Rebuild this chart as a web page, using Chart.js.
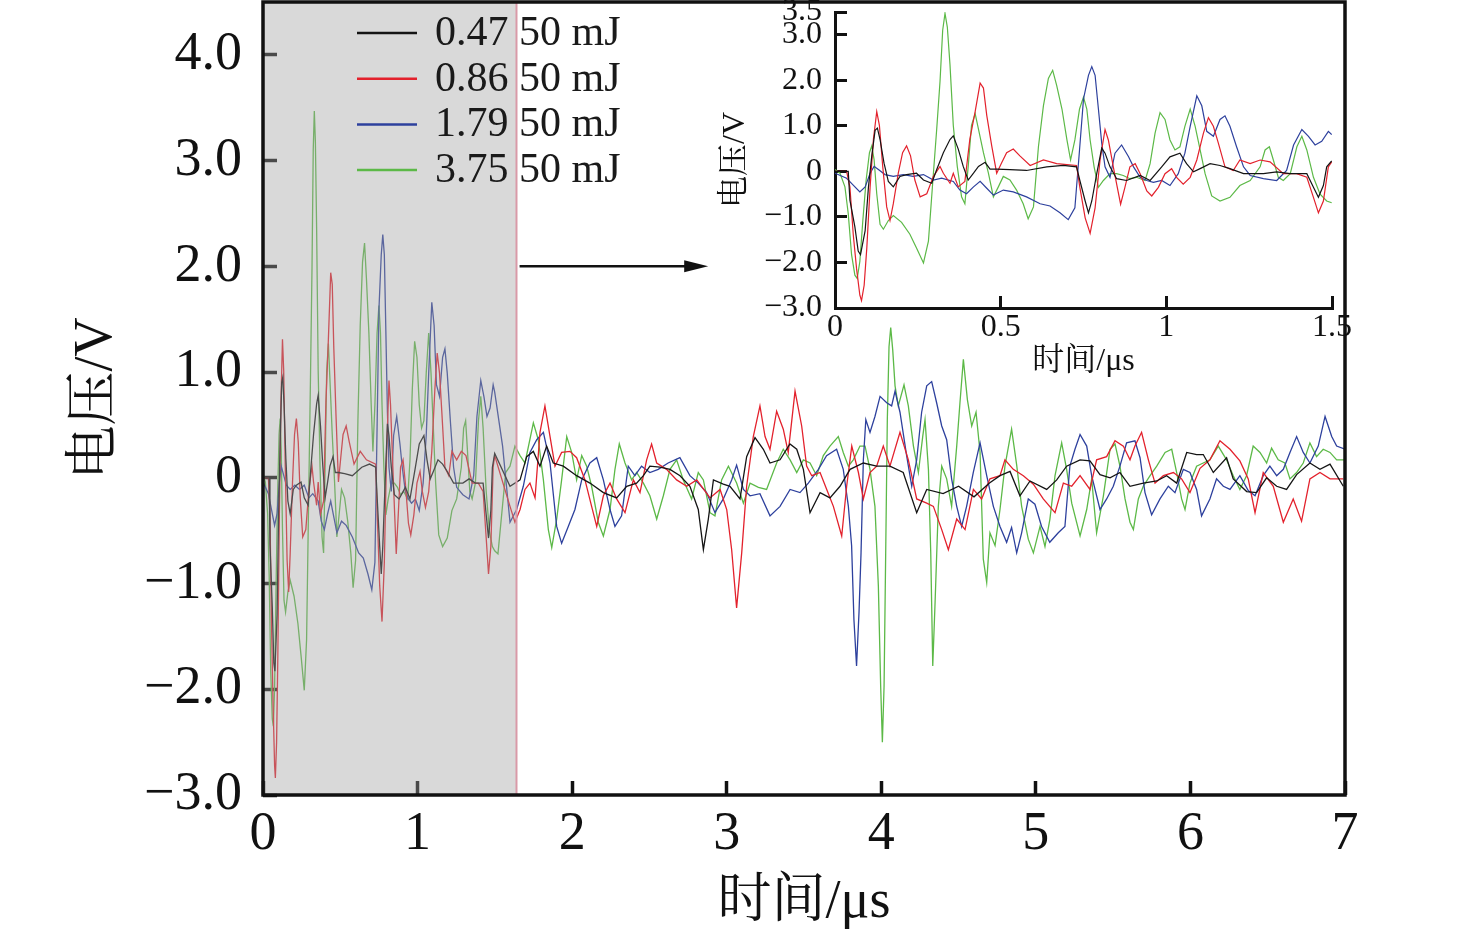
<!DOCTYPE html>
<html>
<head>
<meta charset="utf-8">
<script src="https://cdn.jsdelivr.net/npm/chart.js@4.4.1/dist/chart.umd.min.js"></script>
<style>
  html, body { margin: 0; padding: 0; background: #fff; overflow: hidden; }
  #wrap { position: relative; width: 1476px; height: 939px; }
  #main { position: absolute; left: 0; top: 0; }
  #inset { position: absolute; left: 700px; top: 0; }
</style>
</head>
<body>
<div id="wrap">
  <canvas id="main" width="1476" height="939"></canvas>
  <canvas id="inset" width="660" height="390"></canvas>
</div>
<script>
// series: [time (μs), voltage (V)]
const s047 = [
  [0,0],[0.040,0],[0.045,-0.63],[0.060,-1.22],[0.070,-1.75],[0.077,-1.83],[0.091,-1.30],[0.101,-0.34],
  [0.111,0.34],[0.121,0.90],[0.128,0.95],[0.136,0.70],[0.148,0.18],[0.161,-0.22],[0.176,-0.34],[0.196,-0.11],
  [0.216,-0.07],[0.246,-0.04],[0.267,-0.19],[0.292,-0.26],[0.307,0.04],[0.327,0.41],[0.347,0.70],[0.357,0.78],
  [0.372,0.49],[0.387,0.11],[0.402,-0.19],[0.418,-0.04],[0.433,0.11],[0.453,0.20],[0.468,0.05],[0.488,0.05],
  [0.528,0.04],[0.578,0.02],[0.639,0.10],[0.689,0.13],[0.729,0.10],[0.739,-0.20],[0.755,-0.65],[0.765,-0.91],
  [0.775,-0.65],[0.790,-0.05],[0.805,0.51],[0.815,0.40],[0.830,0.10],[0.850,-0.16],[0.880,-0.20],[0.921,-0.09],
  [0.951,-0.20],[0.986,0.10],[1.011,0.32],[1.041,0.40],[1.061,0.17],[1.082,-0.01],[1.102,0.06],[1.132,0.17],
  [1.162,0.13],[1.192,0.06],[1.233,-0.05],[1.293,-0.05],[1.333,-0.01],[1.374,-0.05],[1.424,-0.05],[1.444,-0.35],
  [1.459,-0.57],[1.474,-0.31],[1.484,0.10],[1.499,0.23],[1.598,-0.08],[1.663,-0.02],[1.706,0.20],[1.749,0.25],
  [1.792,0.11],[1.835,0.30],[1.878,0.14],[1.943,0.11],[2.029,0.02],[2.115,-0.05],[2.202,-0.14],[2.288,-0.19],
  [2.353,-0.08],[2.417,-0.05],[2.461,0.02],[2.503,0.11],[2.568,0.10],[2.633,0.08],[2.698,0.02],[2.762,-0.08],
  [2.816,-0.30],[2.849,-0.68],[2.881,-0.39],[2.914,-0.02],[2.978,-0.06],[3.021,-0.08],[3.086,-0.20],[3.129,0.20],
  [3.183,0.38],[3.237,0.27],[3.280,0.14],[3.345,0.17],[3.409,0.32],[3.453,0.27],[3.496,0.08],[3.539,-0.33],
  [3.604,-0.14],[3.668,-0.19],[3.733,-0.08],[3.798,0.08],[3.884,0.14],[3.970,0.11],[4.056,0.11],[4.142,0.05],
  [4.229,-0.33],[4.294,-0.11],[4.400,-0.15],[4.500,-0.08],[4.600,-0.18],[4.700,-0.05],[4.768,0.02],[4.833,0.06],
  [4.897,-0.17],[4.962,-0.03],[5.070,-0.11],[5.135,-0.02],[5.199,0.11],[5.286,0.17],[5.350,0.16],[5.415,0.03],
  [5.480,0.00],[5.544,0.05],[5.609,-0.08],[5.695,-0.05],[5.782,-0.03],[5.846,0.02],[5.911,-0.05],[5.976,0.24],
  [6.040,0.22],[6.083,0.22],[6.148,0.05],[6.234,0.19],[6.277,-0.01],[6.364,-0.13],[6.428,-0.14],[6.493,0.00],
  [6.558,-0.08],[6.622,-0.11],[6.687,0.03],[6.773,0.14],[6.838,0.08],[6.903,0.13],[6.989,-0.08]
]
const s086 = [
  [0,0],[0.035,0],[0.045,-0.34],[0.055,-1.38],[0.065,-2.13],[0.075,-2.72],[0.080,-2.84],[0.088,-2.50],
  [0.096,-1.68],[0.106,-0.34],[0.116,0.71],[0.126,1.31],[0.134,1.01],[0.144,0.11],[0.156,-0.78],[0.166,-1.08],
  [0.176,-0.71],[0.191,-0.04],[0.204,0.41],[0.216,0.56],[0.228,0.34],[0.241,-0.19],[0.257,-0.56],[0.277,-0.49],
  [0.297,-0.11],[0.317,0.11],[0.327,-0.04],[0.347,-0.26],[0.357,-0.04],[0.372,-0.34],[0.392,-0.22],[0.407,0.71],
  [0.423,1.31],[0.438,1.94],[0.448,1.83],[0.458,1.23],[0.473,0.56],[0.488,-0.04],[0.503,0.19],[0.518,0.41],
  [0.538,0.49],[0.558,0.34],[0.589,0.13],[0.629,0.25],[0.669,0.17],[0.729,0.13],[0.739,-0.35],[0.755,-1.02],
  [0.770,-1.36],[0.785,-0.80],[0.800,0.25],[0.815,0.92],[0.825,0.69],[0.840,0.10],[0.852,-0.35],[0.862,-0.72],
  [0.875,-0.35],[0.890,0.10],[0.906,0.17],[0.921,-0.05],[0.941,-0.43],[0.956,-0.54],[0.976,-0.35],[0.996,-0.05],
  [1.016,0.06],[1.031,-0.13],[1.051,-0.28],[1.072,-0.13],[1.092,0.25],[1.112,0.84],[1.127,1.18],[1.142,0.99],
  [1.157,0.62],[1.177,0.10],[1.202,0.02],[1.222,0.25],[1.253,0.17],[1.283,0.25],[1.313,0.21],[1.353,-0.05],
  [1.393,-0.05],[1.424,-0.13],[1.444,-0.57],[1.459,-0.91],[1.474,-0.65],[1.489,0.10],[1.499,0.21],[1.598,-0.27],
  [1.630,-0.42],[1.663,-0.30],[1.695,-0.11],[1.727,-0.05],[1.760,-0.19],[1.792,0.43],[1.824,0.68],[1.857,0.39],
  [1.889,0.11],[1.932,0.24],[1.986,0.25],[2.029,0.19],[2.083,-0.02],[2.126,-0.27],[2.159,-0.46],[2.202,-0.17],
  [2.245,-0.05],[2.288,-0.20],[2.342,-0.33],[2.396,-0.02],[2.439,-0.14],[2.482,0.17],[2.514,0.32],[2.547,0.14],
  [2.611,0.08],[2.676,-0.02],[2.741,-0.08],[2.806,-0.02],[2.892,-0.19],[2.957,-0.11],[3.000,-0.30],[3.032,-0.68],
  [3.064,-1.23],[3.097,-0.71],[3.129,-0.08],[3.172,0.39],[3.215,0.68],[3.248,0.39],[3.280,0.27],[3.323,0.63],
  [3.366,0.46],[3.398,0.24],[3.442,0.82],[3.485,0.49],[3.517,0.11],[3.550,0.02],[3.604,0.05],[3.647,-0.11],
  [3.690,-0.27],[3.744,-0.55],[3.776,-0.08],[3.809,0.30],[3.852,0.05],[3.884,-0.20],[3.927,0.05],[3.970,0.11],
  [4.013,0.30],[4.056,0.11],[4.121,0.43],[4.175,0.17],[4.229,-0.20],[4.294,-0.24],[4.337,-0.27],[4.391,-0.49],
  [4.434,-0.68],[4.488,-0.39],[4.542,-0.49],[4.596,-0.11],[4.649,-0.20],[4.703,-0.01],[4.768,0.02],[4.800,0.17],
  [4.854,0.08],[4.919,0.02],[4.984,-0.06],[5.048,-0.20],[5.124,-0.33],[5.178,-0.05],[5.232,-0.08],[5.286,0.02],
  [5.350,-0.11],[5.393,0.17],[5.458,0.20],[5.512,0.35],[5.566,0.30],[5.609,0.17],[5.641,0.30],[5.684,0.43],
  [5.728,0.17],[5.771,-0.05],[5.825,0.02],[5.890,0.05],[5.943,-0.01],[5.997,-0.14],[6.062,0.09],[6.126,0.17],
  [6.191,0.35],[6.256,0.27],[6.320,0.16],[6.374,-0.01],[6.418,-0.33],[6.471,0.05],[6.536,-0.08],[6.601,-0.42],
  [6.665,-0.20],[6.719,-0.41],[6.773,-0.01],[6.838,0.05],[6.903,-0.01],[6.989,-0.01]
]
const s179 = [
  [0,-0.04],[0.035,-0.15],[0.055,-0.30],[0.075,-0.45],[0.091,-0.34],[0.106,-0.04],[0.118,0.11],[0.131,0.04],
  [0.151,-0.07],[0.176,-0.11],[0.206,-0.07],[0.236,-0.11],[0.267,-0.07],[0.297,-0.19],[0.322,-0.15],[0.357,-0.22],
  [0.377,-0.41],[0.397,-0.49],[0.418,-0.34],[0.438,-0.22],[0.458,-0.37],[0.478,-0.52],[0.508,-0.41],[0.538,-0.45],
  [0.578,-0.56],[0.619,-0.71],[0.649,-0.76],[0.679,-0.91],[0.704,-1.06],[0.724,-0.80],[0.738,0.47],[0.750,1.59],
  [0.765,2.11],[0.775,2.30],[0.785,2.11],[0.795,1.37],[0.805,0.62],[0.815,0.10],[0.830,-0.13],[0.845,0.40],
  [0.865,0.58],[0.886,0.32],[0.901,0.10],[0.921,-0.13],[0.941,-0.20],[0.961,-0.24],[0.986,-0.20],[1.011,-0.31],
  [1.036,-0.05],[1.056,0.40],[1.072,0.99],[1.092,1.66],[1.107,1.44],[1.122,0.88],[1.142,0.77],[1.162,1.14],
  [1.177,1.22],[1.192,0.99],[1.212,0.54],[1.233,0.10],[1.253,-0.09],[1.293,-0.16],[1.333,-0.20],[1.363,0.02],
  [1.384,0.58],[1.409,0.92],[1.429,0.77],[1.449,0.58],[1.469,0.66],[1.489,0.88],[1.499,0.81],[1.550,0.30],
  [1.598,-0.42],[1.641,-0.30],[1.684,-0.08],[1.727,0.24],[1.771,0.36],[1.814,0.43],[1.857,0.14],[1.900,-0.46],
  [1.932,-0.62],[1.975,-0.46],[2.018,-0.30],[2.062,-0.02],[2.115,0.14],[2.159,0.19],[2.202,-0.02],[2.245,-0.30],
  [2.277,-0.46],[2.320,-0.36],[2.363,0.11],[2.406,0.02],[2.449,0.11],[2.503,0.05],[2.557,0.08],[2.621,0.14],
  [2.697,0.19],[2.762,0.02],[2.816,-0.05],[2.870,-0.14],[2.924,-0.33],[2.978,-0.20],[3.032,-0.02],[3.064,0.12],
  [3.108,-0.11],[3.151,-0.17],[3.215,-0.15],[3.280,-0.36],[3.345,-0.27],[3.410,-0.11],[3.474,-0.14],[3.528,-0.05],
  [3.593,0.08],[3.646,0.21],[3.711,0.27],[3.754,0.08],[3.787,-0.27],[3.808,-0.64],[3.823,-1.34],[3.840,-1.78],
  [3.856,-1.27],[3.869,-0.71],[3.884,0.17],[3.900,0.55],[3.927,0.43],[3.959,0.58],[3.992,0.77],[4.035,0.71],
  [4.067,0.68],[4.089,0.82],[4.121,0.62],[4.164,0.21],[4.197,-0.08],[4.229,0.17],[4.261,0.62],[4.294,0.87],
  [4.326,0.91],[4.358,0.71],[4.391,0.49],[4.423,0.36],[4.455,-0.01],[4.488,-0.27],[4.520,-0.46],[4.552,-0.27],
  [4.595,0.05],[4.639,0.33],[4.682,0.02],[4.725,-0.27],[4.768,-0.46],[4.811,-0.61],[4.843,-0.47],[4.876,-0.71],
  [4.908,-0.52],[4.951,-0.20],[4.994,-0.25],[5.037,-0.46],[5.090,-0.61],[5.145,-0.52],[5.188,-0.46],[5.220,0.11],
  [5.253,0.27],[5.286,0.41],[5.329,0.30],[5.361,0.02],[5.415,-0.30],[5.458,-0.20],[5.501,-0.08],[5.544,0.11],
  [5.587,0.33],[5.641,0.35],[5.674,0.19],[5.706,-0.14],[5.749,-0.35],[5.803,-0.20],[5.857,-0.08],[5.900,-0.14],
  [5.954,0.08],[5.997,0.05],[6.040,-0.11],[6.072,-0.36],[6.126,-0.20],[6.169,-0.01],[6.213,-0.08],[6.256,-0.11],
  [6.320,0.02],[6.374,-0.12],[6.418,-0.17],[6.471,0.02],[6.514,0.11],[6.558,0.02],[6.601,0.08],[6.644,0.24],
  [6.687,0.39],[6.730,0.24],[6.773,0.14],[6.827,0.30],[6.871,0.58],[6.914,0.39],[6.946,0.30],[7.000,0.27]
]
const s375 = [
  [0,0.04],[0.015,-0.04],[0.030,-0.34],[0.040,-0.93],[0.050,-1.83],[0.060,-2.28],[0.067,-2.35],[0.075,-1.98],
  [0.084,-1.08],[0.094,-0.19],[0.104,0.41],[0.111,0.56],[0.118,0.26],[0.126,-0.49],[0.136,-1.16],[0.146,-1.27],
  [0.161,-1.08],[0.176,-0.97],[0.201,-1.12],[0.226,-1.38],[0.246,-1.68],[0.267,-2.01],[0.282,-1.53],[0.297,-0.04],
  [0.307,0.93],[0.317,1.98],[0.325,3.10],[0.332,3.47],[0.339,3.17],[0.347,2.35],[0.357,1.01],[0.369,0.11],
  [0.382,-0.56],[0.392,-0.71],[0.402,0.11],[0.412,1.01],[0.423,1.27],[0.433,0.93],[0.448,0.41],[0.463,-0.04],
  [0.478,-0.56],[0.493,-0.34],[0.508,-0.11],[0.528,-0.19],[0.548,-0.41],[0.568,-0.71],[0.583,-1.04],[0.599,-0.78],
  [0.614,0.54],[0.629,1.44],[0.644,2.04],[0.657,2.22],[0.669,1.89],[0.685,1.37],[0.700,0.69],[0.711,0.25],
  [0.724,0.69],[0.738,1.37],[0.750,1.63],[0.760,1.37],[0.770,0.69],[0.782,0.10],[0.795,-0.35],[0.810,-0.20],
  [0.830,-0.05],[0.850,-0.05],[0.870,-0.09],[0.890,-0.16],[0.910,-0.13],[0.936,-0.20],[0.951,0.17],[0.966,0.84],
  [0.981,1.29],[0.996,1.14],[1.011,0.69],[1.026,0.47],[1.041,0.54],[1.056,0.99],[1.072,1.37],[1.087,0.99],
  [1.102,0.47],[1.117,-0.05],[1.137,-0.54],[1.162,-0.65],[1.192,-0.57],[1.222,-0.31],[1.253,-0.20],[1.283,0.10],
  [1.298,0.47],[1.311,0.54],[1.323,0.25],[1.338,-0.13],[1.353,-0.20],[1.374,-0.05],[1.394,0.54],[1.409,0.77],
  [1.424,0.47],[1.444,-0.13],[1.464,-0.50],[1.484,-0.65],[1.499,-0.69],[1.520,-0.72],[1.570,0.05],[1.598,0.11],
  [1.630,0.30],[1.663,0.21],[1.695,0.14],[1.749,0.52],[1.781,0.36],[1.814,-0.02],[1.846,-0.49],[1.868,-0.66],
  [1.900,-0.39],[1.932,-0.02],[1.965,0.39],[1.997,0.24],[2.029,-0.02],[2.062,0.21],[2.094,0.11],[2.126,-0.08],
  [2.169,-0.42],[2.202,-0.55],[2.245,-0.30],[2.277,0.08],[2.305,0.32],[2.342,0.14],[2.385,-0.02],[2.417,0.05],
  [2.461,-0.05],[2.503,-0.17],[2.547,-0.39],[2.590,-0.17],[2.633,0.08],[2.676,0.17],[2.719,-0.02],[2.773,-0.20],
  [2.816,0.05],[2.849,-0.02],[2.892,-0.33],[2.924,-0.36],[2.967,-0.02],[3.011,0.11],[3.064,-0.05],[3.108,-0.24],
  [3.151,-0.05],[3.205,-0.09],[3.258,-0.11],[3.323,0.14],[3.366,0.27],[3.410,0.17],[3.453,0.05],[3.496,0.17],
  [3.539,0.14],[3.582,0.02],[3.625,0.21],[3.668,0.30],[3.722,0.39],[3.754,0.24],[3.787,0.11],[3.819,0.17],
  [3.862,0.30],[3.895,0.30],[3.927,0.08],[3.959,-0.27],[3.981,-1.02],[3.996,-1.97],[4.007,-2.50],[4.018,-1.97],
  [4.028,-0.77],[4.039,0.55],[4.050,1.24],[4.061,1.42],[4.074,1.21],[4.089,0.87],[4.110,0.68],[4.147,0.88],
  [4.175,0.68],[4.208,0.30],[4.240,0.05],[4.268,0.39],[4.283,0.55],[4.305,0.08],[4.320,-0.71],[4.333,-1.78],
  [4.348,-1.18],[4.369,-0.27],[4.391,0.11],[4.423,-0.01],[4.455,-0.27],[4.488,0.30],[4.509,0.71],[4.531,1.12],
  [4.557,0.74],[4.585,0.49],[4.613,0.62],[4.639,0.24],[4.660,-0.77],[4.682,-0.99],[4.703,-0.52],[4.736,-0.64],
  [4.768,-0.30],[4.800,0.11],[4.843,0.46],[4.876,0.12],[4.908,-0.27],[4.951,-0.58],[4.984,-0.71],[5.027,-0.46],
  [5.059,-0.65],[5.091,-0.39],[5.124,0.02],[5.167,0.33],[5.199,0.08],[5.232,-0.24],[5.286,-0.55],[5.329,-0.30],
  [5.361,-0.01],[5.393,-0.52],[5.437,-0.17],[5.480,0.27],[5.512,0.32],[5.544,0.11],[5.577,-0.20],[5.609,-0.42],
  [5.631,-0.49],[5.663,-0.20],[5.695,-0.08],[5.739,0.02],[5.782,0.11],[5.836,0.24],[5.879,0.27],[5.911,0.05],
  [5.943,-0.20],[5.965,-0.30],[5.997,-0.05],[6.040,0.11],[6.083,0.14],[6.126,0.17],[6.180,0.30],[6.234,0.17],
  [6.277,0.02],[6.320,-0.11],[6.363,0.02],[6.406,0.30],[6.450,0.24],[6.493,0.14],[6.525,0.28],[6.568,0.17],
  [6.611,0.14],[6.644,-0.01],[6.687,0.05],[6.730,0.14],[6.773,0.33],[6.816,0.20],[6.859,0.27],[6.903,0.24],
  [6.946,0.17],[7.000,0.17]
]

const seriesList = [s047, s086, s179, s375]
const seriesLabels = ['0.47 50 mJ', '0.86 50 mJ', '1.79 50 mJ', '3.75 50 mJ']
const seriesColors = ['#141414', '#e3212c', '#2d409d', '#5cb947']

const mainXTicks = [0, 1, 2, 3, 4, 5, 6, 7]
const mainYTicks = [-3, -2, -1, 0, 1, 2, 3, 4]
const insetXTicks = [0, 0.5, 1, 1.5]
const insetYTicks = [-3, -2, -1, 0, 1, 2, 3, 3.5]

const shadeEnd = 1.64          // end of the grey zoom window, μs
const arrowStart = [1.66, 2.0]
const arrowEnd = [2.88, 2.0]

const SERIF = '"Liberation Serif", "Times New Roman", "Noto Serif CJK SC", "Noto Sans CJK SC", serif'
const INK = '#111'

Chart.defaults.font.family = SERIF
Chart.defaults.color = INK

const fmtV = v => v === 0 ? '0' : (v < 0 ? '\u2212' : '') + Math.abs(v).toFixed(1)

const makeDatasets = (maxT, width) => seriesList.map((s, i) => ({
  label: seriesLabels[i],
  data: s.filter(p => p[0] <= maxT).map(p => ({ x: p[0], y: p[1] })),
  borderColor: seriesColors[i],
  borderWidth: width,
  pointRadius: 0,
  tension: 0,
  fill: false,
}))

// fixed box size, and no extra room for the end labels
const fixBox = (w, h) => s => {
  if (w) s.width = w
  if (h) s.height = h
  s.paddingTop = s.paddingBottom = s.paddingLeft = s.paddingRight = 0
}

const axis = ({ min, max, ticks, fmt, size, pad, tick, tickW, title, titlePad, fit, z, border }) => ({
  type: 'linear',
  min, max, z,
  afterBuildTicks: s => { s.ticks = ticks.map(value => ({ value })) },
  afterFit: fit,
  ticks: { autoSkip: false, maxRotation: 0, padding: pad, color: INK,
           font: { size, lineHeight: 1.2 }, callback: v => fmt(v) },
  grid: { drawOnChartArea: false, tickLength: tick, tickWidth: tickW, color: INK },
  border: border,
  title: { display: true, text: title, color: INK, font: { size, lineHeight: 1.2 }, padding: titlePad },
})

// grey window, pink edge, frame, arrow and legend of the main plot
const mainDecor = {
  id: 'mainDecor',
  afterDatasetsDraw(chart) {
    const { ctx, chartArea: a, scales: { x } } = chart
    const xe = x.getPixelForValue(shadeEnd)
    ctx.save()
    ctx.fillStyle = 'rgba(160,160,160,0.4)'
    ctx.fillRect(a.left, a.top, xe - a.left, a.bottom - a.top)
    ctx.strokeStyle = '#d99aa8'
    ctx.lineWidth = 2
    ctx.beginPath(); ctx.moveTo(xe, a.top); ctx.lineTo(xe, a.bottom); ctx.stroke()
    ctx.restore()
  },
  afterDraw(chart) {
    const { ctx, chartArea: a, scales: { x, y } } = chart
    ctx.save()
    ctx.strokeStyle = INK
    ctx.lineWidth = 3.5
    ctx.strokeRect(a.left, a.top, a.right - a.left, a.bottom - a.top)

    const x0 = x.getPixelForValue(arrowStart[0]), y0 = y.getPixelForValue(arrowStart[1])
    const x1 = x.getPixelForValue(arrowEnd[0]), y1 = y.getPixelForValue(arrowEnd[1])
    ctx.lineWidth = 2.5
    ctx.beginPath(); ctx.moveTo(x0, y0); ctx.lineTo(x1 - 18, y1); ctx.stroke()
    ctx.fillStyle = INK
    ctx.beginPath(); ctx.moveTo(x1, y1); ctx.lineTo(x1 - 24, y1 - 6); ctx.lineTo(x1 - 24, y1 + 6); ctx.closePath(); ctx.fill()

    ctx.font = '42px ' + SERIF
    ctx.textBaseline = 'middle'
    ctx.textAlign = 'left'
    seriesLabels.forEach((label, i) => {
      const ly = a.top + 31 + i * 45.7
      ctx.strokeStyle = seriesColors[i]
      ctx.lineWidth = 2.5
      ctx.beginPath(); ctx.moveTo(a.left + 94, ly); ctx.lineTo(a.left + 154, ly); ctx.stroke()
      ctx.fillStyle = '#1a1a1a'
      ctx.fillText(label, a.left + 172, ly + 1)
    })
    ctx.restore()
  }
}

new Chart(document.getElementById('main'), {
  type: 'line',
  data: { datasets: makeDatasets(7, 1.3) },
  options: {
    responsive: false, animation: false, devicePixelRatio: 1, events: [],
    layout: { padding: { top: 2, right: 131, left: 0, bottom: 0 } },
    plugins: { legend: { display: false }, tooltip: { enabled: false } },
    scales: {
      x: axis({ min: 0, max: 7, ticks: mainXTicks, fmt: v => String(v), size: 54, pad: 21,
                tick: -14, tickW: 3.5, title: '时间/μs', titlePad: { top: 0, bottom: 4 },
                fit: fixBox(0, 144), z: 1, border: { display: false } }),
      y: axis({ min: -3, max: 4.5, ticks: mainYTicks, fmt: fmtV, size: 54, pad: 35,
                tick: -14, tickW: 3.5, title: '电压/V', titlePad: { top: 64, bottom: 0 },
                fit: fixBox(263, 0), z: 1, border: { display: false } }),
    }
  },
  plugins: [mainDecor]
})

new Chart(document.getElementById('inset'), {
  type: 'line',
  data: { datasets: makeDatasets(1.5, 1.2) },
  options: {
    responsive: false, animation: false, devicePixelRatio: 1, events: [],
    layout: { padding: { top: 12, right: 28, left: 0, bottom: 0 } },
    plugins: { legend: { display: false }, tooltip: { enabled: false } },
    scales: {
      x: axis({ min: 0, max: 1.5, ticks: insetXTicks, fmt: v => String(v), size: 32, pad: 12,
                tick: -12, tickW: 3, title: '时间/μs', titlePad: { top: 0, bottom: 9 },
                fit: fixBox(0, 82), z: 0, border: { display: true, width: 3, color: INK } }),
      y: axis({ min: -3, max: 3.5, ticks: insetYTicks, fmt: fmtV, size: 32, pad: 25,
                tick: -12, tickW: 3, title: '电压/V', titlePad: { top: 16, bottom: 0 },
                fit: fixBox(135, 0), z: 0, border: { display: true, width: 3, color: INK } }),
    }
  }
})
</script>
</body>
</html>
